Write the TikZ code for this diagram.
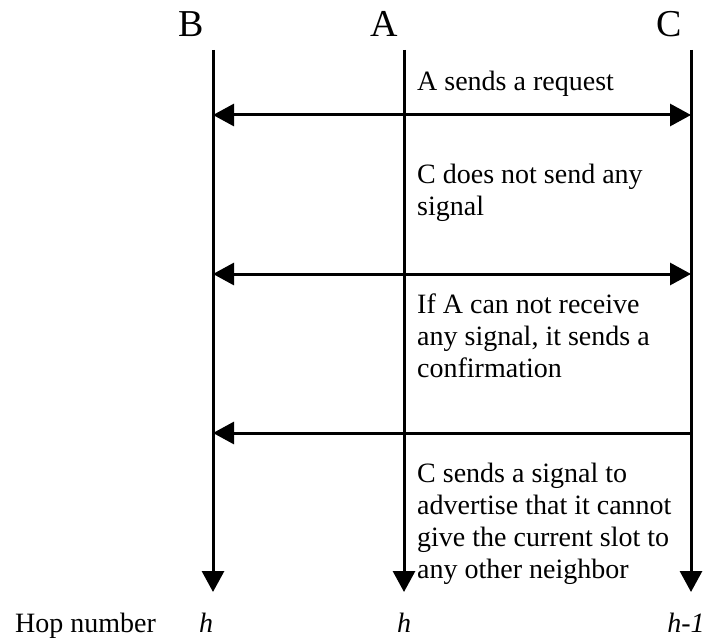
\documentclass[tikz,border=0pt]{standalone}
\usepackage{fontspec}
\setmainfont{Liberation Serif}
\usetikzlibrary{arrows.meta}
\usetikzlibrary{positioning}
\tikzstyle{lifeline}=[draw,line width=3pt,->]
\tikzstyle{message}=[draw,line width=3pt]
\tikzstyle{station}=[inner sep=0pt,anchor=base,font=\fontsize{38}{40}\selectfont]
\tikzstyle{note}=[inner sep=0pt,anchor=north west,align=left,font=\fontsize{28}{32}\selectfont]
\tikzstyle{hop}=[inner sep=0pt,anchor=base,font=\fontsize{28}{32}\selectfont\itshape]

\begin{document}
\begin{tikzpicture}[x=1pt,y=-1pt,>={Triangle[length=21pt,width=22pt]}]
    \useasboundingbox (0,0) rectangle (706,639);
    % First the three stations and their time lines
    \foreach \pos/\name/\lpos in {213/B/191, 404/A/384, 691/C/669}
    {
        \node[station] (\name) at (\lpos,37) {\name};
        \coordinate (\name top) at (\pos,50);
        \coordinate (\name bot) at (\pos,592);
    }
    \foreach \name in {B,A,C}
        \path[lifeline] (\name top) -- (\name bot);

    % Then the messages between B and C
    \foreach \y/\idx in {115/1, 274/2, 433/3}
    {
        \coordinate (B\idx) at (213,\y);
        \coordinate (C\idx) at (691,\y);
    }
    \path[message,<->] (B1) -- (C1);
    \path[message,<->] (B2) -- (C2);
    \path[message,->] (C3) -- (B3);

    % What happens in each step
    \node[note] (step1) at (417,71) {A sends a request};
    \node[note] (step2) at (417,164) {C does not send any\\signal};
    \node[note] (step3) at (417,294) {If A can not receive\\any signal, it sends a\\confirmation};
    \node[note] (step4) at (417,463) {C sends a signal to\\advertise that it cannot\\give the current slot to\\any other neighbor};

    % Hop numbers under the time lines
    \node[hop,anchor=base west,font=\fontsize{28}{32}\selectfont] (hoplabel) at (15,632) {Hop number};
    \foreach \pos/\name/\label in {206/B/h, 404/A/h, 686/C/h-1}
        \node[hop] (hop\name) at (\pos,632) {\label};
\end{tikzpicture}
\end{document}
